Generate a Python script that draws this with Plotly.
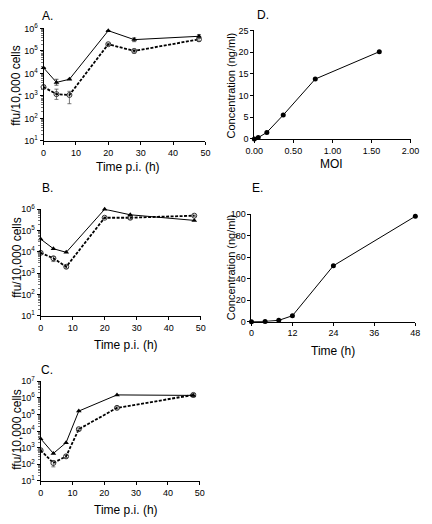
import plotly.graph_objects as go

W, H = 432, 524

# ---------------- data ----------------
time_A = [0, 4, 8, 20, 28, 48]
A_s1 = [1.8e4, 4.0e3, 5.5e3, 8.0e5, 3.2e5, 4.5e5]
A_s1_err_up = [0, 1.5e3, 0, 0, 6e4, 8e4]
A_s1_err_dn = [0, 1.0e3, 0, 0, 6e4, 8e4]
A_s2 = [2.5e3, 1.2e3, 1.1e3, 2.0e5, 1.0e5, 3.3e5]
A_s2_err_up = [3e2, 8e2, 5e2, 2e4, 2e4, 6e4]
A_s2_err_dn = [3e2, 5e2, 6.5e2, 2e4, 2e4, 6e4]

time_B = [0, 4, 8, 20, 28, 48]
B_s1 = [4.0e4, 1.4e4, 9.5e3, 1.0e6, 5.5e5, 3.0e5]
B_s2 = [9.0e3, 5.0e3, 2.0e3, 4.0e5, 4.0e5, 5.0e5]
B_s2_err_up = [1e3, 1e3, 3e2, 3e4, 6e4, 3e4]
B_s2_err_dn = [1e3, 1.5e3, 3e2, 3e4, 6e4, 3e4]

time_C = [0, 4, 8, 12, 24, 48]
C_s1 = [3.5e3, 4.5e2, 2.0e3, 1.6e5, 1.5e6, 1.4e6]
C_s2 = [7.0e2, 1.2e2, 3.0e2, 1.3e4, 2.5e5, 1.5e6]
C_s2_err_up = [1e2, 4e1, 5e1, 2e3, 4e4, 3e5]
C_s2_err_dn = [1e2, 5e1, 5e1, 2e3, 4e4, 4e5]

moi_D = [0, 0.05, 0.16, 0.37, 0.78, 1.6]
conc_D = [0, 0.3, 1.5, 5.5, 13.8, 20.1]

time_E = [0, 4, 8, 12, 24, 48]
conc_E = [0, 0.2, 1.2, 5.5, 52, 98]

log_tickvals = [10, 100, 1e3, 1e4, 1e5, 1e6, 1e7]
log_ticktext = ["10<sup>%d</sup>" % i for i in range(1, 8)]
time_ticks = [0, 10, 20, 30, 40, 50]
moi_ticks = [0, 0.5, 1.0, 1.5, 2.0]
moi_ticktext = ["0.00", "0.50", "1.00", "1.50", "2.00"]
E_xticks = [0, 12, 24, 36, 48]
D_yticks = [0, 5, 10, 15, 20, 25]
E_yticks = [0, 20, 40, 60, 80, 100]

FONT = "Liberation Sans, Arial, sans-serif"

def px_x(a, b):
    return [a / W, b / W]

def px_y(top, bot):
    return [1 - bot / H, 1 - top / H]

fig = go.Figure()

def add_pair(ax, t, s1, s2, e1u=None, e1d=None, e2u=None, e2d=None):
    xa = "x" if ax == 1 else "x%d" % ax
    ya = "y" if ax == 1 else "y%d" % ax
    err1 = dict(type="data", array=e1u, arrayminus=e1d, color="#333", thickness=0.8, width=2) if e1u else None
    err2 = dict(type="data", array=e2u, arrayminus=e2d, color="#555", thickness=0.8, width=2) if e2u else None
    fig.add_trace(go.Scatter(x=t, y=s2, mode="lines+markers", xaxis=xa, yaxis=ya,
                             line=dict(color="black", width=1.8, dash="3px,1.5px"),
                             marker=dict(symbol="circle-open", size=5, color="#333", line=dict(width=1)),
                             error_y=err2, cliponaxis=False, showlegend=False))
    fig.add_trace(go.Scatter(x=t, y=s1, mode="lines+markers", xaxis=xa, yaxis=ya,
                             line=dict(color="black", width=1),
                             marker=dict(symbol="triangle-up", size=5, color="black"),
                             error_y=err1, cliponaxis=False, showlegend=False))

add_pair(1, time_A, A_s1, A_s2, A_s1_err_up, A_s1_err_dn, A_s2_err_up, A_s2_err_dn)
add_pair(2, time_B, B_s1, B_s2, None, None, B_s2_err_up, B_s2_err_dn)
add_pair(3, time_C, C_s1, C_s2, None, None, C_s2_err_up, C_s2_err_dn)

fig.add_trace(go.Scatter(x=moi_D, y=conc_D, mode="lines+markers", xaxis="x4", yaxis="y4",
                         line=dict(color="black", width=1),
                         marker=dict(symbol="circle", size=5, color="black"),
                         cliponaxis=False, showlegend=False))
fig.add_trace(go.Scatter(x=time_E, y=conc_E, mode="lines+markers", xaxis="x5", yaxis="y5",
                         line=dict(color="black", width=1),
                         marker=dict(symbol="circle", size=5, color="black"),
                         cliponaxis=False, showlegend=False))

tickfont = dict(family=FONT, size=9, color="black")
common_x = dict(showline=True, linecolor="black", linewidth=1, ticks="outside", ticklen=3,
                tickcolor="black", showgrid=False, zeroline=False, tickfont=tickfont)
common_y = dict(showline=True, linecolor="black", linewidth=1, ticks="outside", ticklen=3,
                tickcolor="black", showgrid=False, zeroline=False, tickfont=tickfont)
log_minor = dict(ticks="outside", ticklen=2, tickcolor="#777", dtick="D1", showgrid=False)

layout = dict(
    width=W, height=H, margin=dict(l=0, r=0, t=0, b=0),
    plot_bgcolor="white", paper_bgcolor="white", showlegend=False,
    font=dict(family=FONT, color="black"),
    xaxis=dict(common_x, domain=px_x(36, 205), range=[0, 50], tickvals=time_ticks, anchor="y"),
    yaxis=dict(common_y, domain=px_y(22, 137), type="log", range=[1, 6], tickvals=log_tickvals,
               ticktext=log_ticktext, anchor="x", minor=log_minor),
    xaxis2=dict(common_x, domain=px_x(33, 200), range=[0, 50], tickvals=time_ticks, anchor="y2"),
    yaxis2=dict(common_y, domain=px_y(207, 316), type="log", range=[1, 6], tickvals=log_tickvals,
                ticktext=log_ticktext, anchor="x2", minor=log_minor),
    xaxis3=dict(common_x, domain=px_x(33, 199), range=[0, 50], tickvals=time_ticks, anchor="y3"),
    yaxis3=dict(common_y, domain=px_y(383, 485), type="log", range=[1, 7], tickvals=log_tickvals,
                ticktext=log_ticktext, anchor="x3", minor=log_minor),
    xaxis4=dict(common_x, domain=px_x(256, 419), range=[0, 2], tickvals=moi_ticks,
                ticktext=moi_ticktext, anchor="y4"),
    yaxis4=dict(common_y, domain=px_y(24, 135), range=[0, 25], tickvals=D_yticks, anchor="x4"),
    xaxis5=dict(common_x, domain=px_x(253, 424), range=[0, 48], tickvals=E_xticks, anchor="y5"),
    yaxis5=dict(common_y, domain=px_y(212, 322), range=[0, 100], tickvals=E_yticks, anchor="x5"),
)
fig.update_layout(**layout)

def ann(text, x, y, size=11, angle=0, weight="normal"):
    fig.add_annotation(text=text, x=x / W, y=1 - y / H, xref="paper", yref="paper",
                       showarrow=False, textangle=angle, xanchor="center", yanchor="middle",
                       font=dict(family=FONT, size=size, color="black", weight=weight))

# panel letters
ann("A.", 40, 9, 12)
ann("B.", 40, 185, 12)
ann("C.", 40, 371, 12)
ann("D.", 265, 8, 12)
ann("E.", 259, 185, 12)

# x axis titles
ann("Time p.i. (h)", 124, 164, 12)
ann("Time p.i. (h)", 122, 346, 12)
ann("Time p.i. (h)", 122, 515, 12)
ann("MOI", 337, 161, 12)
ann("Time (h)", 338, 352, 12)

# y axis titles
ann("ffu/10,000 cells", 8, 80, 12, -90)
ann("ffu/10,000 cells", 8, 256, 12, -90)
ann("ffu/10,000 cells", 8, 432, 12, -90)
ann("Concentration (ng/ml)", 232, 80, 11, -90)
ann("Concentration (ng/ml)", 232, 266, 11, -90)

fig.write_html("out.html", config={"displayModeBar": False},
               post_script="document.body.style.margin='0px';")
